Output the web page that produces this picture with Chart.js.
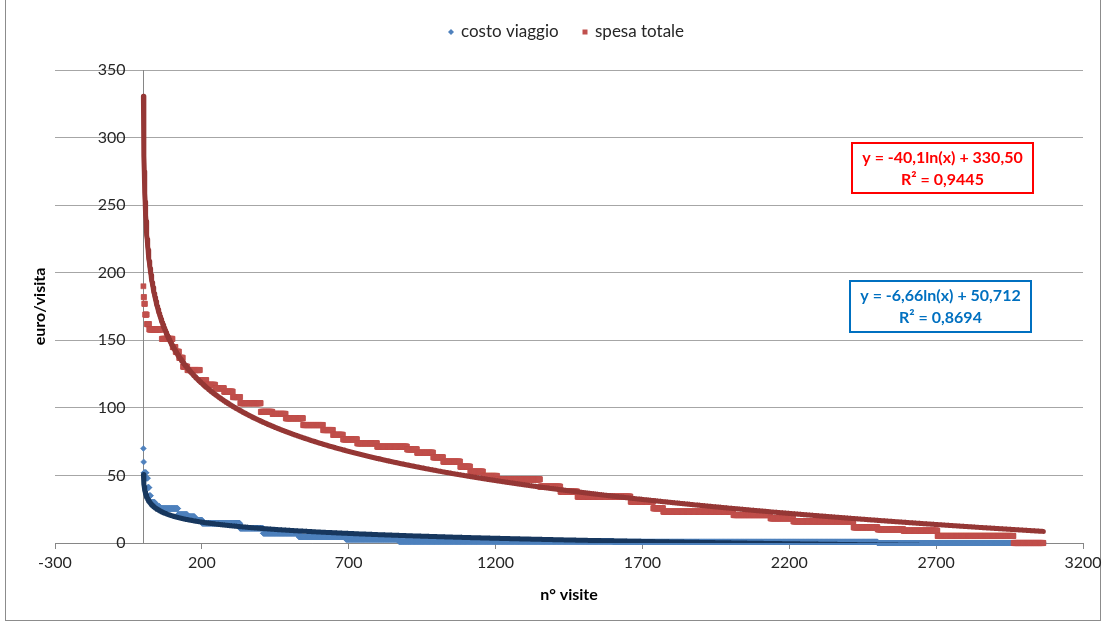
<!DOCTYPE html>
<html lang="it">
<head>
<meta charset="utf-8">
<title>costo viaggio e spesa totale per visita</title>
<script src="https://cdn.jsdelivr.net/npm/chart.js@4.4.1/dist/chart.umd.min.js"></script>
<style>
  html, body { margin: 0; padding: 0; background: #ffffff; overflow: hidden; }
  #cornice { position: absolute; left: 5px; top: -1px; width: 1096px; height: 622px;
             border: 1px solid #8c8c8c; box-sizing: border-box; }
  #grafico { position: absolute; left: 0; top: 0; }
</style>
</head>
<body>
<div id="cornice"></div>
<canvas id="grafico" width="1106" height="624"></canvas>
<script>
// Scale ticks
const xTicks = [-300, 200, 700, 1200, 1700, 2200, 2700, 3200];
const yTicks = [0, 50, 100, 150, 200, 250, 300, 350];

// Series names
const nomeCosto = 'costo viaggio';
const nomeSpesa = 'spesa totale';

// Visits sorted by decreasing amount: each level (euro/visita) with the number of visits at that level
const costoLivelli = [70, 60, 52, 48, 41, 35, 30, 27, 25.5, 21, 19.5, 17, 14.6, 10.9, 7.2, 4.5, 2.7, 1.2, 0.8, 0];
const costoVisite  = [ 1,  1,  8,  5,  5,  5, 15, 16,   62, 32,   25, 25,  129,   79, 122, 160, 180, 730, 900, 565];

const spesaLivelli = [190, 182, 177, 169, 162, 158, 151, 145, 141.5, 137, 130.5, 128, 120.5, 117, 114.5, 112, 108,
                      103.5, 97, 95.5, 92.3, 87.3, 83.6, 80, 76.7, 73.8, 71.3, 69.3, 66.8, 63.4, 60.2, 56.5, 52.8,
                      49.6, 47.1, 41.7, 38, 34.3, 30.6, 25.7, 23.2, 20.7, 18.3, 16, 11.6, 10.1, 9.1, 5.2, 0];
const spesaVisite  = [  1,   2,   3,   6,   8,  43,  37,  10,    12,  13,    15,  43,    22,  30,    30,  30,  25,
                         70, 40,   45,   59,   68,   34, 34,   48,   68,  102,   34,   55,   34,   58,   34,   44,
                         48,  146,  69, 58,  181,   77,   34,  239,  126,   78, 205,   82,   88,  116,  259, 102];

// Logarithmic trend lines y = a·ln(x) + b
const trendCosto = [-6.66, 50.712];
const trendSpesa = [-40.1, 330.50];
const eqCosto = ['y = -6,66ln(x) + 50,712', 'R² = 0,8694'];
const eqSpesa = ['y = -40,1ln(x) + 330,50', 'R² = 0,9445'];

const FONT = 'Lato, "Open Sans", sans-serif';
const TESTO = '#262626';

function espandi(livelli, visite) {
  const punti = [];
  let n = 0;
  livelli.forEach((v, i) => {
    for (let k = 0; k < visite[i]; k++) { n += 1; punti.push({ x: n, y: v }); }
  });
  return punti;
}

function tendenza(coeff, n) {
  const punti = [];
  for (let x = 1; x <= n; x++) punti.push({ x: x, y: coeff[0] * Math.log(x) + coeff[1] });
  return punti;
}

const puntiCosto = espandi(costoLivelli, costoVisite);
const puntiSpesa = espandi(spesaLivelli, spesaVisite);

function riquadro(ctx, b, righe, colore) {
  ctx.save();
  ctx.fillStyle = '#ffffff';
  ctx.fillRect(b.x, b.y, b.w, b.h);
  ctx.strokeStyle = colore;
  ctx.lineWidth = 2;
  ctx.strokeRect(b.x, b.y, b.w, b.h);
  ctx.fillStyle = colore;
  ctx.font = 'bold 16px ' + FONT;
  ctx.textAlign = 'center';
  ctx.textBaseline = 'middle';
  const cx = b.x + b.w / 2;
  ctx.fillText(righe[0], cx, b.y + 15);
  ctx.fillText(righe[1], cx, b.y + 37);
  ctx.restore();
}

const decorazioni = {
  id: 'decorazioni',
  beforeDatasetsDraw(chart) {
    const { ctx, chartArea: a, scales: { x, y } } = chart;
    const x0 = Math.round(x.getPixelForValue(0)) + 0.5;
    ctx.save();
    // vertical axis crossing at x = 0
    ctx.strokeStyle = '#868686';
    ctx.lineWidth = 1;
    ctx.beginPath();
    ctx.moveTo(x0, a.top);
    ctx.lineTo(x0, a.bottom);
    ctx.stroke();
    // value labels next to the vertical axis
    ctx.fillStyle = TESTO;
    ctx.font = '16px ' + FONT;
    ctx.textAlign = 'right';
    ctx.textBaseline = 'middle';
    yTicks.forEach(v => ctx.fillText(String(v), x0 - 18, y.getPixelForValue(v)));
    ctx.restore();
  },
  afterDraw(chart) {
    const { ctx } = chart;
    ctx.save();
    // legend
    const yl = 32;
    ctx.fillStyle = '#4f81bd';
    ctx.beginPath();
    ctx.moveTo(451, yl - 3); ctx.lineTo(454, yl); ctx.lineTo(451, yl + 3); ctx.lineTo(448, yl);
    ctx.closePath();
    ctx.fill();
    ctx.fillStyle = '#c0504d';
    ctx.fillRect(582.5, yl - 2.5, 5, 5);
    ctx.fillStyle = TESTO;
    ctx.font = '17px ' + FONT;
    ctx.textAlign = 'left';
    ctx.textBaseline = 'middle';
    ctx.fillText(nomeCosto, 461, yl);
    ctx.fillText(nomeSpesa, 595, yl);
    ctx.restore();
    // trend equations
    riquadro(ctx, { x: 852, y: 143, w: 181, h: 50 }, eqSpesa, '#ff0000');
    riquadro(ctx, { x: 850, y: 281, w: 181, h: 51 }, eqCosto, '#0070c0');
  }
};

function disegna() {
  new Chart(document.getElementById('grafico'), {
    type: 'scatter',
    data: {
      datasets: [
        {
          label: 'tendenza ' + nomeCosto,
          data: tendenza(trendCosto, puntiCosto.length),
          showLine: true, pointRadius: 0, borderColor: '#17375e', borderWidth: 5,
          borderCapStyle: 'round', borderJoinStyle: 'round', order: 0, clip: 0
        },
        {
          label: 'tendenza ' + nomeSpesa,
          data: tendenza(trendSpesa, puntiSpesa.length),
          showLine: true, pointRadius: 0, borderColor: '#953735', borderWidth: 5,
          borderCapStyle: 'round', borderJoinStyle: 'round', order: 1, clip: 0
        },
        {
          label: nomeSpesa, data: puntiSpesa,
          pointStyle: 'rect', pointRadius: 3.6, backgroundColor: '#c0504d',
          borderColor: '#c0504d', borderWidth: 0.5, order: 2, clip: false
        },
        {
          label: nomeCosto, data: puntiCosto,
          pointStyle: 'rectRot', pointRadius: 3, backgroundColor: '#4f81bd',
          borderColor: '#4f81bd', borderWidth: 0.5, order: 3, clip: false
        }
      ]
    },
    options: {
      responsive: false,
      animation: false,
      events: [],
      layout: { padding: { top: 70, left: 28, right: 23, bottom: 19 } },
      plugins: { legend: { display: false }, tooltip: { enabled: false } },
      scales: {
        x: {
          type: 'linear', position: 'bottom', min: -300, max: 3200,
          afterBuildTicks: s => { s.ticks = xTicks.map(v => ({ value: v })); },
          afterFit: s => { s.height = 62; },
          ticks: { color: TESTO, font: { family: FONT, size: 16 }, padding: 4, maxRotation: 0,
                   callback: v => String(v) },
          grid: { drawOnChartArea: false, drawTicks: true, tickLength: 6, color: '#868686' },
          border: { display: true, color: '#868686', width: 1 },
          title: { display: true, text: 'n° visite', color: '#000000',
                   font: { family: FONT, size: 16, weight: 'bold' }, padding: { top: 0, bottom: 1 } }
        },
        y: {
          type: 'linear', position: 'left', min: 0, max: 350,
          afterBuildTicks: s => { s.ticks = yTicks.map(v => ({ value: v })); },
          afterFit: s => { s.width = 27; },
          ticks: { display: false },
          grid: { color: '#a6a6a6', drawTicks: false },
          border: { display: false },
          title: { display: true, text: 'euro/visita', color: '#000000',
                   font: { family: FONT, size: 16, weight: 'bold' }, padding: { top: 2, bottom: 0 } }
        }
      }
    },
    plugins: [decorazioni]
  });
}

const caricamenti = document.fonts
  ? Promise.all(['16px Lato', 'bold 16px Lato', '17px Lato'].map(f => document.fonts.load(f)))
  : Promise.resolve();
caricamenti.then(disegna, disegna);
</script>
</body>
</html>
